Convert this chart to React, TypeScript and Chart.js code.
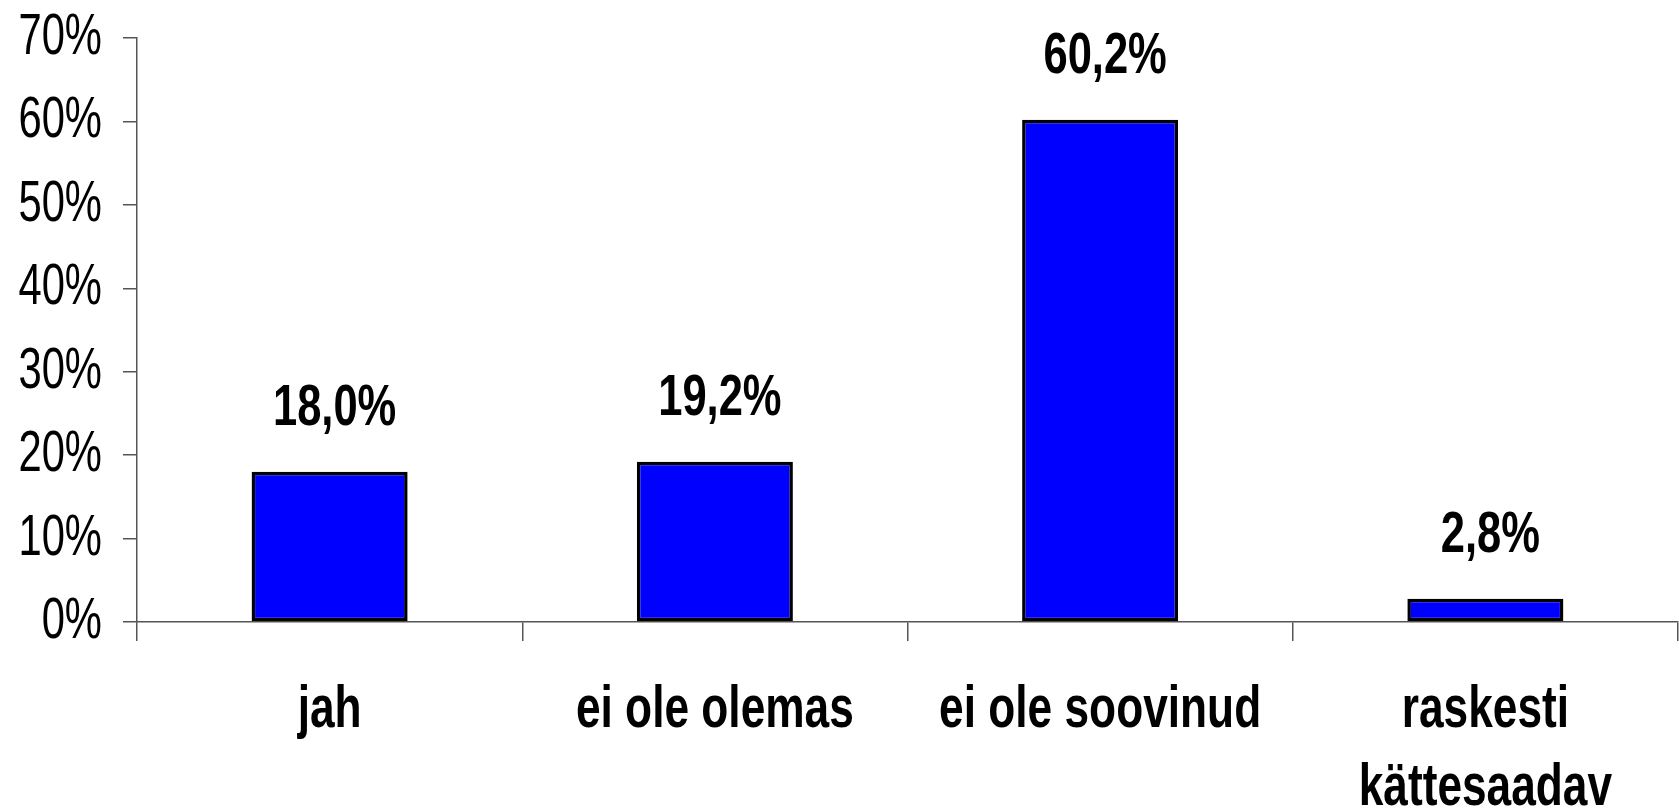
import React, { useEffect, useRef } from "react";
import { Chart, registerables } from "chart.js";

Chart.register(...registerables);

const categories: (string | string[])[] = [
  "jah",
  "ei ole olemas",
  "ei ole soovinud",
  ["raskesti", "kättesaadav"],
];
const values: number[] = [18.0, 19.2, 60.2, 2.8];
const yTicks: number[] = [0, 10, 20, 30, 40, 50, 60, 70];

const FONT = "'Liberation Sans', Arial, sans-serif";

// Narrow the text horizontally (the reference uses a condensed face)
const condensedText = {
  id: "condensedText",
  beforeInit(chart: any) {
    const ctx = chart.ctx;
    const orig = ctx.fillText;
    ctx.fillText = function (text: string, x: number, y: number, maxWidth?: number) {
      const w = this.measureText(text).width;
      const f = /bold|700/.test(this.font) ? 0.75 : 0.72;
      const mw = w * f;
      orig.call(this, text, x, y, maxWidth !== undefined ? Math.min(maxWidth, mw) : mw);
    };
  },
};

const valueLabels = {
  id: "valueLabels",
  afterDatasetsDraw(chart: any) {
    const ctx = chart.ctx;
    const meta = chart.getDatasetMeta(0);
    ctx.save();
    ctx.font = `bold 58px ${FONT}`;
    ctx.fillStyle = "#000";
    ctx.textAlign = "center";
    ctx.textBaseline = "alphabetic";
    meta.data.forEach((bar: any, i: number) => {
      const v = chart.data.datasets[0].data[i] as number;
      const txt = v.toFixed(1).replace(".", ",") + "%";
      ctx.fillText(txt, bar.x + 5, bar.y - 47);
    });
    ctx.restore();
  },
};

export default function App() {
  const ref = useRef<HTMLCanvasElement | null>(null);
  useEffect(() => {
    if (!ref.current) return;
    const chart = new Chart(ref.current, {
      type: "bar",
      data: {
        labels: categories,
        datasets: [
          {
            data: values,
            backgroundColor: "#0000FF",
            borderColor: "#000000",
            borderWidth: 3.5,
            borderSkipped: false,
            barPercentage: 0.405,
            categoryPercentage: 1,
          },
        ],
      },
      options: {
        animation: false,
        responsive: true,
        maintainAspectRatio: false,
        layout: { padding: { top: 38, right: 1, left: 0, bottom: 0 } },
        plugins: {
          legend: { display: false },
          tooltip: { enabled: false },
        },
        scales: {
          x: {
            offset: true,
            afterFit: (s: any) => {
              s.height = 189;
              s.paddingLeft = 0;
              s.paddingRight = 0;
            },
            border: { display: true, color: "#555", width: 1.5 },
            grid: {
              display: true,
              offset: true,
              drawOnChartArea: false,
              drawTicks: true,
              tickLength: 19,
              color: "#555",
              lineWidth: 1.5,
            },
            ticks: {
              color: "#000",
              padding: 31,
              maxRotation: 0,
              minRotation: 0,
              autoSkip: false,
              font: { family: FONT, size: 59, weight: "bold", lineHeight: "78px" },
            },
          },
          y: {
            min: 0,
            max: 70,
            afterFit: (s: any) => {
              s.width = 137;
              s.paddingTop = 0;
              s.paddingBottom = 0;
            },
            afterBuildTicks: (s: any) => {
              s.ticks = yTicks.map((v) => ({ value: v }));
            },
            border: { display: true, color: "#555", width: 1.5 },
            grid: {
              display: true,
              drawOnChartArea: false,
              drawTicks: true,
              tickLength: 14,
              color: "#555",
              lineWidth: 1.5,
            },
            ticks: {
              color: "#000",
              padding: 21,
              stepSize: 10,
              callback: (v: any) => `${v}%`,
              font: { family: FONT, size: 58, weight: "normal" },
            },
          },
        },
      },
      plugins: [condensedText, valueLabels],
    });
    return () => chart.destroy();
  }, []);
  return (
    <div
      style={{
        position: "absolute",
        left: 0,
        top: 0,
        width: 1679,
        height: 811,
        background: "#fff",
      }}
    >
      <canvas ref={ref} />
    </div>
  );
}
